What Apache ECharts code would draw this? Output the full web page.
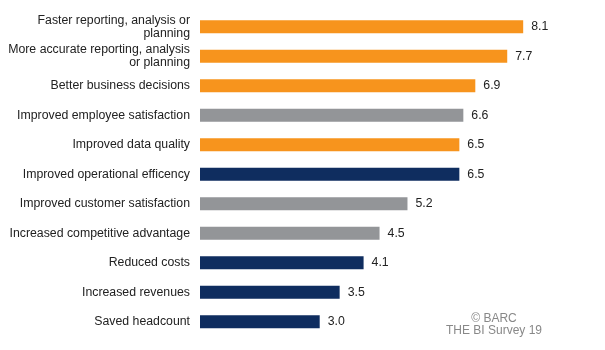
<!DOCTYPE html>
<html>
<head>
<meta charset="utf-8">
<script src="https://cdn.jsdelivr.net/npm/echarts@6/dist/echarts.min.js"></script>
<style>html,body{margin:0;padding:0;background:#fff;}#c{width:605px;height:350px;}</style>
</head>
<body>
<div id="c"></div>
<script>
const categories = [
  "Faster reporting, analysis or\nplanning",
  "More accurate reporting, analysis\nor planning",
  "Better business decisions",
  "Improved employee satisfaction",
  "Improved data quality",
  "Improved operational efficency",
  "Improved customer satisfaction",
  "Increased competitive advantage",
  "Reduced costs",
  "Increased revenues",
  "Saved headcount"
];
const values = [8.1, 7.7, 6.9, 6.6, 6.5, 6.5, 5.2, 4.5, 4.1, 3.5, 3.0];
const groups = ["o", "o", "o", "g", "o", "n", "g", "g", "n", "n", "n"];
const palette = { o: "#F7941D", g: "#939598", n: "#0F2D5F" };

const chart = echarts.init(document.getElementById('c'), null, { renderer: 'canvas' });
chart.setOption({
  animation: false,
  backgroundColor: '#ffffff',
  grid: { left: 200, top: 12, width: 399, bottom: 13.5, containLabel: false },
  xAxis: {
    type: 'value', min: 0, max: 10,
    show: false
  },
  yAxis: {
    type: 'category',
    inverse: true,
    data: categories,
    axisLine: { show: false },
    axisTick: { show: false },
    axisLabel: {
      color: '#222222',
      fontFamily: 'Liberation Sans, Arial, sans-serif',
      fontSize: 12.3,
      lineHeight: 13,
      margin: 10,
      align: 'right'
    }
  },
  series: [{
    type: 'bar',
    barWidth: 13,
    data: values.map((v, i) => ({ value: v, itemStyle: { color: palette[groups[i]] } })),
    label: {
      show: true,
      position: 'right',
      distance: 8,
      color: '#222222',
      fontFamily: 'Liberation Sans, Arial, sans-serif',
      fontSize: 12.3,
      formatter: p => p.value.toFixed(1)
    }
  }],
  graphic: [{
    type: 'text',
    x: 494, y: 313,
    style: {
      text: '© BARC\nTHE BI Survey 19',
      fill: '#888888',
      font: '12px Liberation Sans, Arial, sans-serif',
      align: 'center',
      verticalAlign: 'top',
      lineHeight: 12
    }
  }]
});
</script>
</body>
</html>
